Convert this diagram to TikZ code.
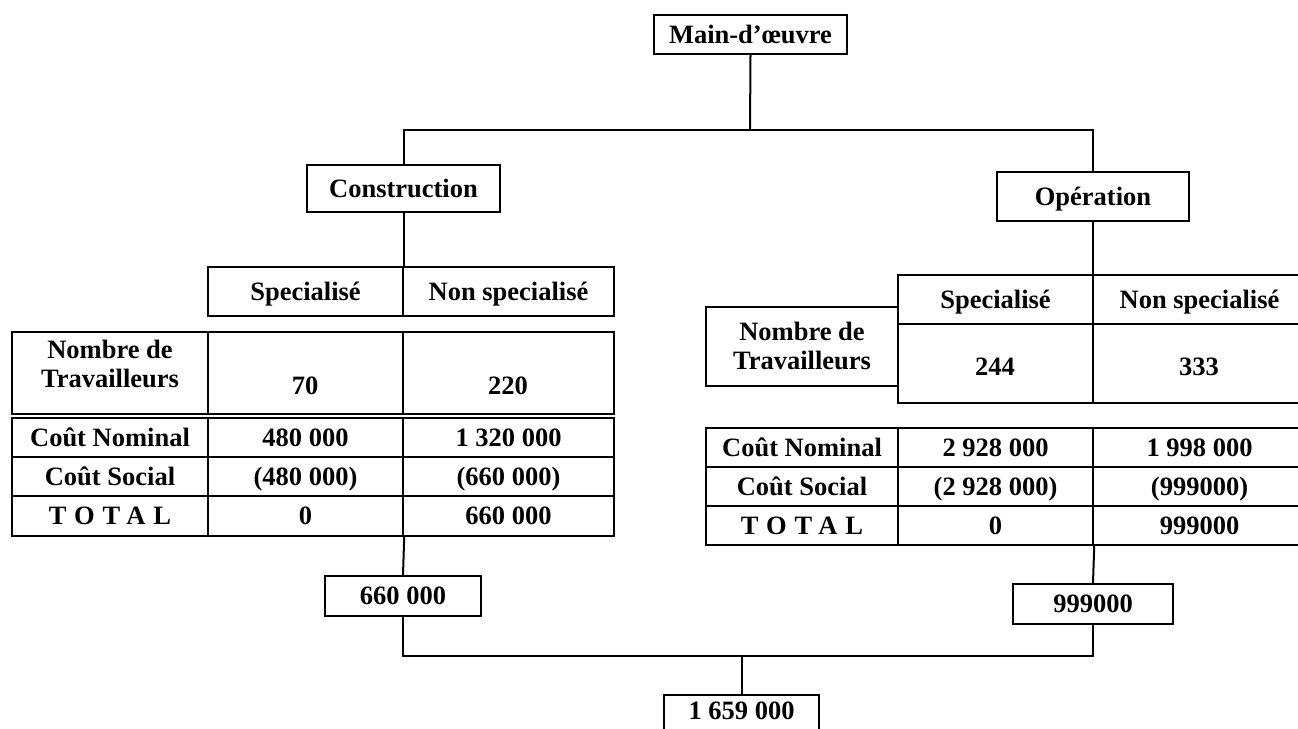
\documentclass[tikz,border=0pt]{standalone}
\usepackage{fontspec}
\setmainfont{Liberation Serif}
\tikzset{
  box/.style={draw=black, line width=2.4pt, rectangle, inner sep=0pt, align=center, text height=17.5pt, text depth=0pt},
  txt/.style={inner sep=0pt, align=center},
  conn/.style={draw=black, line width=2pt},
}
\newcommand{\mkcell}[6]{%
  \node[box, minimum width={(#4-#2)*1pt}, minimum height={(#5-#3)*1pt}] (#1) at ({(#2+#4)/2},{(#3+#5)/2}) {#6};}
\newcommand{\spaced}[1]{{\addfontfeatures{LetterSpace=30}#1}}
\begin{document}
\begin{tikzpicture}[x=1pt, y=-1pt, font=\fontsize{26.5}{29}\selectfont\bfseries]
\useasboundingbox (0,0) rectangle (1298,728);
\clip (0,0) rectangle (1298,728);
\fill[white] (0,0) rectangle (1298,728);

% top
\mkcell{main}{654}{15}{847}{54}{Main-d'œuvre}
\mkcell{cons}{307}{165}{500}{212}{Construction}
\mkcell{oper}{997}{172}{1189}{221}{Opération}
\coordinate (jtop) at (750,130);
\draw[conn] (main.south) -- (jtop);
\draw[conn] (cons.north) |- (jtop) -| (oper.north);

% left tables
\mkcell{lh1}{208}{267}{403}{316}{Specialisé}
\mkcell{lh2}{403}{267}{614}{316}{Non specialisé}
\mkcell{ln1}{12}{332}{208}{414}{}
\mkcell{ln2}{208}{332}{403}{414}{}
\mkcell{ln3}{403}{332}{614}{414}{}
\node[txt] (ln1t) at (110,364) {Nombre de\\Travailleurs};
\node[txt] (ln2t) at (305,386) {70};
\node[txt] (ln3t) at (508,386) {220};
\mkcell{lN1}{12}{418}{208}{457}{Coût Nominal}
\mkcell{lN2}{208}{418}{403}{457}{480 000}
\mkcell{lN3}{403}{418}{614}{457}{1 320 000}
\mkcell{lS1}{12}{457}{208}{496}{Coût Social}
\mkcell{lS2}{208}{457}{403}{496}{(480 000)}
\mkcell{lS3}{403}{457}{614}{496}{(660 000)}
\mkcell{lT1}{12}{496}{208}{536}{\spaced{TOTAL}}
\mkcell{lT2}{208}{496}{403}{536}{0}
\mkcell{lT3}{403}{496}{614}{536}{660 000}
\draw[conn] (cons.south) -- (cons.south |- lh1.north);

% right tables
\mkcell{rh1}{898}{275}{1093}{324}{Specialisé}
\mkcell{rh2}{1093}{275}{1306}{324}{Non specialisé}
\mkcell{rn2}{898}{324}{1093}{403}{}
\mkcell{rn3}{1093}{324}{1306}{403}{}
\mkcell{rn1}{706}{307}{898}{386}{}
\node[txt] (rn1t) at (802,346) {Nombre de\\Travailleurs};
\node[txt] (rn2t) at (995,367) {244};
\node[txt] (rn3t) at (1199,367) {333};
\mkcell{rN1}{706}{428}{898}{467}{Coût Nominal}
\mkcell{rN2}{898}{428}{1093}{467}{2 928 000}
\mkcell{rN3}{1093}{428}{1306}{467}{1 998 000}
\mkcell{rS1}{706}{467}{898}{506}{Coût Social}
\mkcell{rS2}{898}{467}{1093}{506}{(2 928 000)}
\mkcell{rS3}{1093}{467}{1306}{506}{(999000)}
\mkcell{rT1}{706}{506}{898}{545}{\spaced{TOTAL}}
\mkcell{rT2}{898}{506}{1093}{545}{0}
\mkcell{rT3}{1093}{506}{1306}{545}{999000}
\draw[conn] (oper.south) -- (oper.south |- rh1.north);

% bottom
\mkcell{s660}{325}{576}{481}{616}{660 000}
\mkcell{s999}{1013}{584}{1173}{624}{999000}
\mkcell{tot}{664}{695}{819}{740}{}
\node[txt] (tott) at (741.5,711) {1 659 000};
\draw[conn] (lT2.south east) -- (s660.north);
\draw[conn] (rT2.south east) -- (s999.north);
\coordinate (jbot) at (741.5,656);
\draw[conn] (s660.south) |- (jbot) -| (s999.south);
\draw[conn] (jbot) -- (tot.north);
\end{tikzpicture}
\end{document}
